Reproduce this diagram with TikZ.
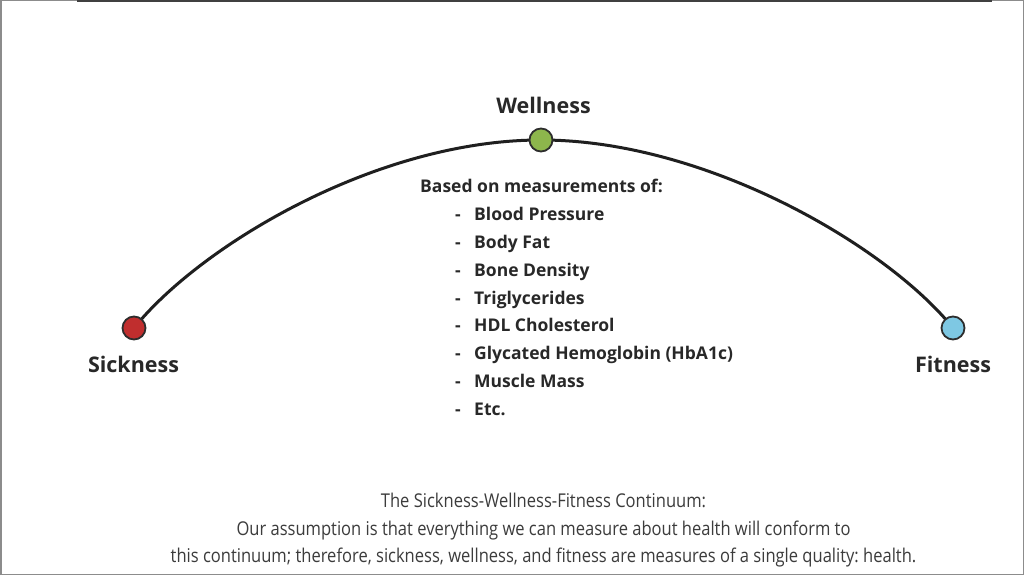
\documentclass[tikz,border=0pt]{standalone}
\usepackage{fontspec}
\setmainfont{Open Sans}
\newfontfamily\condfont[FakeStretch=0.87]{Open Sans}
\usetikzlibrary{backgrounds}
\definecolor{txt}{RGB}{40,40,40}
\definecolor{captxt}{RGB}{60,60,60}
\definecolor{dotline}{RGB}{45,45,45}
\definecolor{sickred}{RGB}{192,46,46}
\definecolor{wellgreen}{RGB}{141,182,76}
\definecolor{fitblue}{RGB}{126,200,227}
\frenchspacing
\begin{document}
\begin{tikzpicture}[x=1pt,y=1pt,
  dot/.style={circle,draw=dotline,line width=1.8pt,minimum size=23pt,inner sep=0pt},
  lbl/.style={font=\fontsize{21.5}{26}\selectfont\bfseries,text=txt,anchor=base},
  item/.style={font=\fontsize{17.5}{20}\selectfont\bfseries,text=txt,anchor=base west,inner sep=0pt},
  captext/.style={font=\condfont\fontsize{19}{23}\selectfont,text=captxt,anchor=base,inner sep=0pt},
  arcline/.style={line width=3pt,draw=black!88}]
\useasboundingbox (0,0) rectangle (1024,575);
% dots
\node[dot,fill=sickred] (sick) at (134,247) {};
\node[dot,fill=wellgreen] (well) at (541,435) {};
\node[dot,fill=fitblue] (fit) at (953,247) {};
\begin{scope}[on background layer]
\fill[white] (0,0) rectangle (1024,575);
\draw[arcline] (sick.center) .. controls +(66,82) and +(-165,0) .. (well.center)
                             .. controls +(165,0) and +(-66,82) .. (fit.center);
\end{scope}
% frame
\draw[black!45,line width=1.5pt] (0.75,0) -- (0.75,574.25) -- (1023.25,574.25) -- (1023.25,0.75) -- (0,0.75);
\draw[black!75,line width=2.5pt] (77,574) -- (992,574);
% labels
\node[lbl] (sicklbl) at (133.5,202.5) {Sickness};
\node[lbl] (welllbl) at (543.5,461) {Wellness};
\node[lbl] (fitlbl) at (953,202.5) {Fitness};
% list
\node[item] (based) at (420,382) {Based on measurements of:};
\foreach \t [count=\i from 0] in {Blood Pressure,Body Fat,Bone Density,Triglycerides,HDL Cholesterol,Glycated Hemoglobin (HbA1c),Muscle Mass,Etc.}{
  \node[item] (dash\i) at (455,354-27.75*\i) {-};
  \node[item] (it\i) at (474,354-27.75*\i) {\t};
}
% caption
\node[captext] (cap1) at (543.5,67) {The Sickness-Wellness-Fitness Continuum:};
\node[captext] (cap2) at (543.5,40) {Our assumption is that everything we can measure about health will conform to};
\node[captext] (cap3) at (543.5,13) {this continuum; therefore, sickness, wellness, and fitness are measures of a single quality: health.};
\end{tikzpicture}
\end{document}
